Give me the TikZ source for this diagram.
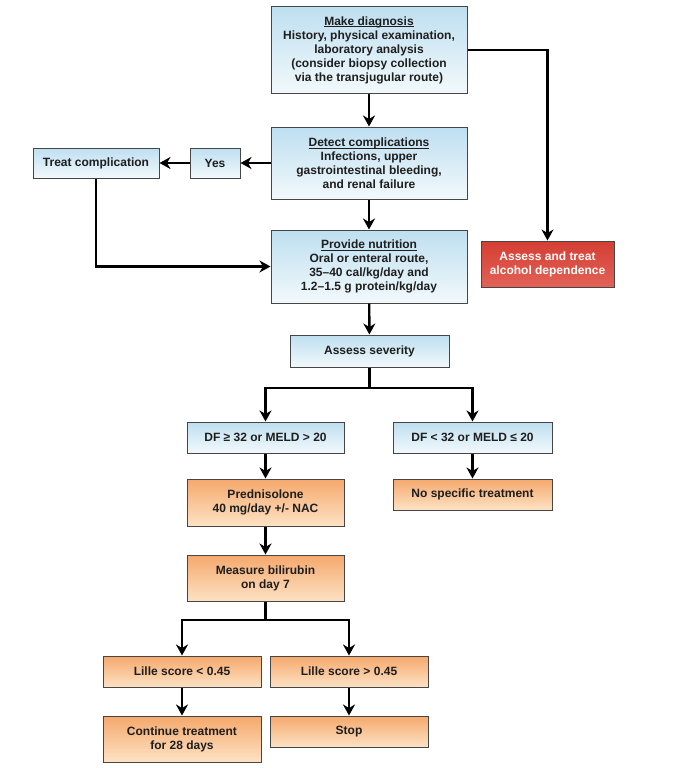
\documentclass[tikz,border=0pt]{standalone}
\usepackage{fontspec}
\setmainfont{Liberation Sans}
\usetikzlibrary{arrows.meta}
\definecolor{bluetop}{RGB}{190,223,240}
\definecolor{bluebot}{RGB}{242,249,252}
\definecolor{orgtop}{RGB}{245,168,108}
\definecolor{orgbot}{RGB}{253,226,196}
\definecolor{redtop}{RGB}{212,62,52}
\definecolor{redbot}{RGB}{226,98,86}
\definecolor{boxline}{RGB}{70,70,70}
\definecolor{txt}{RGB}{30,30,30}
\newcommand\myul[1]{\setbox0\hbox{#1}\rlap{\rule[-2pt]{\wd0}{0.7pt}}\box0}
\tikzset{
  box/.style={draw=boxline, line width=1pt, inner sep=0pt, align=center,
    font=\fontsize{12}{14}\selectfont\bfseries, text=txt},
  bluebox/.style={box, top color=bluetop, bottom color=bluebot},
  orgbox/.style={box, top color=orgtop, bottom color=orgbot},
  redbox/.style={box, top color=redtop, bottom color=redbot, text=white},
  arr/.style={line width=2.4pt, -{Stealth[length=11pt,width=12pt,inset=3.5pt]}},
  lin/.style={line width=2.4pt}
}
\begin{document}
\begin{tikzpicture}[x=1pt,y=-1pt]
\useasboundingbox (0,0) rectangle (676,768);
% nodes
\node[bluebox, minimum width=196pt, minimum height=86pt] (diag) at (369,50)
  {\myul{Make diagnosis}\\History, physical examination,\\laboratory analysis\\(consider biopsy collection\\via the transjugular route)};
\node[bluebox, minimum width=196pt, minimum height=72pt] (detect) at (369,163)
  {\myul{Detect complications}\\Infections, upper\\gastrointestinal bleeding,\\and renal failure};
\node[bluebox, minimum width=50pt, minimum height=30pt] (yes) at (215,163) {Yes};
\node[bluebox, minimum width=126pt, minimum height=30pt] (treat) at (96,163) {Treat complication};
\node[bluebox, minimum width=196pt, minimum height=73pt] (nutr) at (369,266.5)
  {\myul{Provide nutrition}\\Oral or enteral route,\\35--40 cal/kg/day and\\1.2--1.5 g protein/kg/day};
\node[redbox, minimum width=133pt, minimum height=46pt] (alc) at (547.5,264)
  {Assess and treat\\alcohol dependence};
\node[bluebox, minimum width=159pt, minimum height=32pt] (sev) at (369.5,351) {Assess severity};
\node[bluebox, minimum width=157pt, minimum height=31pt] (dfl) at (265.5,437.5) {DF ≥ 32 or MELD > 20};
\node[bluebox, minimum width=159pt, minimum height=31pt] (dfr) at (472.5,437.5) {DF < 32 or MELD ≤ 20};
\node[orgbox, minimum width=157pt, minimum height=47pt] (pred) at (265.5,502.5) {Prednisolone\\40 mg/day +/- NAC};
\node[orgbox, minimum width=159pt, minimum height=31pt] (nst) at (472.5,494.5) {No specific treatment};
\node[orgbox, minimum width=157pt, minimum height=46pt] (meas) at (265.5,578) {Measure bilirubin\\on day 7};
\node[orgbox, minimum width=158pt, minimum height=31pt] (lil) at (182,671.5) {Lille score < 0.45};
\node[orgbox, minimum width=158pt, minimum height=31pt] (lir) at (349,671.5) {Lille score > 0.45};
\node[orgbox, minimum width=158pt, minimum height=46pt] (cont) at (182,739) {Continue treatment\\for 28 days};
\node[orgbox, minimum width=158pt, minimum height=31pt] (stop) at (349,731.5) {Stop};
% junctions
\coordinate (j1) at (369.5,388);
\coordinate (j2) at (265.5,620);
% connectors
\draw[arr] (diag) -- (detect);
\draw[arr] (diag.east) -| (alc.north);
\draw[arr] (detect.west) -- (yes.east);
\draw[arr] (yes.west) -- (treat.east);
\draw[arr] (treat.south) |- (nutr.west);
\draw[arr] (detect) -- (nutr);
\draw[arr] (nutr) -- (sev);
\draw[lin] (sev.south) -- (j1);
\draw[arr] (j1) -| (dfl.north);
\draw[arr] (j1) -| (dfr.north);
\draw[arr] (dfl) -- (pred);
\draw[arr] (dfr) -- (nst);
\draw[arr] (pred) -- (meas);
\draw[lin] (meas.south) -- (j2);
\draw[arr] (j2) -| (lil.north);
\draw[arr] (j2) -| (lir.north);
\draw[arr] (lil) -- (cont);
\draw[arr] (lir) -- (stop);
\end{tikzpicture}
\end{document}
